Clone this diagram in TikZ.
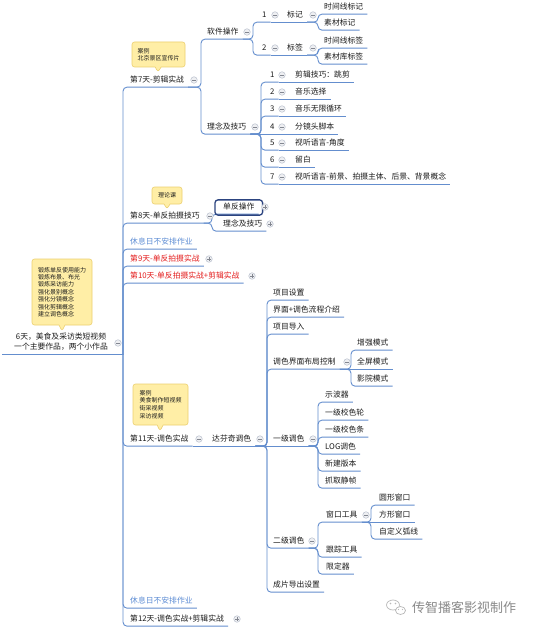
\documentclass[tikz,border=0pt]{standalone}
\usepackage{fontspec}
\setmainfont{Noto Sans CJK SC}
\usetikzlibrary{calc,shapes.callouts}
\definecolor{lnc}{RGB}{100,142,206}
\definecolor{txc}{RGB}{28,28,28}
\definecolor{redc}{RGB}{228,30,30}
\definecolor{bluec}{RGB}{92,140,212}
\definecolor{noteF}{RGB}{255,238,166}
\definecolor{noteD}{RGB}{236,208,112}
\definecolor{mkF}{RGB}{238,239,242}
\definecolor{mkD}{RGB}{185,192,205}
\definecolor{selc}{RGB}{44,68,128}
\definecolor{wmc}{RGB}{138,138,138}
\tikzset{
  tx/.style={anchor=west, inner xsep=4bp, xshift=-4bp, inner ysep=4bp,
    text height=5.9bp, text depth=0pt,
    font=\fontsize{7.8bp}{9bp}\selectfont, text=txc},
  rootn/.style={align=center, inner xsep=12bp, inner ysep=4bp,
    font=\fontsize{7.8bp}{10bp}\selectfont, text=txc},
  ln/.style={draw=lnc, line width=0.9bp, rounded corners=4bp},
  note/.style={rectangle callout, fill=noteF, draw=noteD, line width=0.6bp,
    rounded corners=2.5bp, align=left, inner sep=0pt,
    font=\fontsize{6bp}{7.4bp}\selectfont, text=txc, callout pointer width=6bp},
  mkm/.style={circle, draw=mkD, fill=mkF, line width=0.5bp, minimum size=6.5bp,
    inner sep=0pt, path picture={\draw[mkD!70!black, line width=0.6bp]
      ([xshift=1.6bp]path picture bounding box.west) --
      ([xshift=-1.6bp]path picture bounding box.east);}},
  mkp/.style={circle, draw=mkD, fill=mkF, line width=0.5bp, minimum size=6.5bp,
    inner sep=0pt, path picture={\draw[mkD!70!black, line width=0.6bp]
      ([xshift=1.6bp]path picture bounding box.west) --
      ([xshift=-1.6bp]path picture bounding box.east)
      ([yshift=-1.6bp]path picture bounding box.north) --
      ([yshift=1.6bp]path picture bounding box.south);}},
  selbox/.style={draw=selc, line width=1.3bp, rounded corners=3bp},
}
\newcommand\mmcon[3]{\draw[ln] (#1.south east) -- (#1.south east -| #3) |- (#2.south east);}
\newcommand\mmstr[2]{\draw[ln] (#1.south east) -- (#2.south east);}
\begin{document}
\begin{tikzpicture}[x=1bp, y=-1bp]
\useasboundingbox (0,0) rectangle (535,633);
\fill[white] (0,0) rectangle (535,633);

% ---------- root ----------
\node[rootn] (root) at (61,342) {6天，美食及采访类短视频\\一个主要作品，两个小作品};
\coordinate (spx) at (123,0);
\coordinate (sp) at (root.south west -| spx);
\draw[ln] (root.south west) -- (sp);

% ---------- days ----------
\node[tx] (d7) at (130,80) {第7天-剪辑实战};
\node[tx] (d8) at (130,216) {第8天-单反拍摄技巧};
\node[tx, text=bluec] (r1) at (130,242) {休息日不安排作业};
\node[tx, text=redc] (d9) at (130,259) {第9天-单反拍摄实战};
\node[tx, text=redc] (d10) at (130,276) {第10天-单反拍摄实战+剪辑实战};
\node[tx] (d11) at (130,439) {第11天-调色实战};
\node[tx, text=bluec] (r2) at (130,601) {休息日不安排作业};
\node[tx] (d12) at (130,619) {第12天-调色实战+剪辑实战};
\foreach \d in {d7,d8,r1,d9,d10,d11,r2,d12}{\draw[ln] (sp) |- (\d.south east);}

% ---------- day 7 ----------
\coordinate (b7) at (201,0);
\node[tx] (so) at (207,32) {软件操作};
\node[tx] (lj) at (207,127) {理念及技巧};
\mmcon{d7}{so}{b7}
\mmcon{d7}{lj}{b7}

\coordinate (bso) at (253,0);
\node[tx] (n1) at (262,15) {1};
\node[tx] (n2) at (262,48) {2};
\mmcon{so}{n1}{bso}
\mmcon{so}{n2}{bso}
\node[tx] (bj) at (287,15) {标记};
\node[tx] (bq) at (287,48) {标签};
\mmstr{n1}{bj}
\mmstr{n2}{bq}
\coordinate (bb) at (318,0);
\node[tx] (bj1) at (324,7) {时间线标记};
\node[tx] (bj2) at (324,23) {素材标记};
\node[tx] (bq1) at (324,41) {时间线标签};
\node[tx] (bq2) at (324,57) {素材库标签};
\mmcon{bj}{bj1}{bb}
\mmcon{bj}{bj2}{bb}
\mmcon{bq}{bq1}{bb}
\mmcon{bq}{bq2}{bb}

\coordinate (blj) at (261,0);
\node[tx] (i1) at (270,75) {1};
\node[tx] (i2) at (270,92) {2};
\node[tx] (i3) at (270,109) {3};
\node[tx] (i4) at (270,127) {4};
\node[tx] (i5) at (270,143) {5};
\node[tx] (i6) at (270,160) {6};
\node[tx] (i7) at (270,177) {7};
\node[tx] (t1) at (295,75) {剪辑技巧：跳剪};
\node[tx] (t2) at (295,92) {音乐选择};
\node[tx] (t3) at (295,109) {音乐无限循环};
\node[tx] (t4) at (295,127) {分镜头脚本};
\node[tx] (t5) at (295,143) {视听语言-角度};
\node[tx] (t6) at (295,160) {留白};
\node[tx] (t7) at (295,177) {视听语言-前景、拍摄主体、后景、背景概念};
\foreach \k in {1,2,3,5,6,7}{\mmcon{lj}{i\k}{blj}}
\mmstr{lj}{i4}
\foreach \k in {1,...,7}{\mmstr{i\k}{t\k}}

% ---------- day 8 ----------
\coordinate (b8) at (212,0);
\node[tx] (sd) at (223,207) {单反操作};
\node[tx] (lj8) at (223,224) {理念及技巧};
\mmcon{d8}{sd}{b8}
\mmcon{d8}{lj8}{b8}
\draw[selbox] ([xshift=-4bp,yshift=-1bp]sd.south west) rectangle ([xshift=4bp]sd.north east);

% ---------- day 11 ----------
\node[tx] (df) at (212,439) {达芬奇调色};
\mmstr{d11}{df}
\coordinate (bdf) at (267,0);
\node[tx] (p1) at (273,293) {项目设置};
\node[tx] (p2) at (273,310) {界面+调色流程介绍};
\node[tx] (p3) at (273,327) {项目导入};
\node[tx] (p4) at (273,362) {调色界面布局控制};
\node[tx] (p5) at (273,439) {一级调色};
\node[tx] (p6) at (273,541) {二级调色};
\node[tx] (p7) at (273,585) {成片导出设置};
\foreach \k in {1,2,3,4,6,7}{\mmcon{df}{p\k}{bdf}}
\mmstr{df}{p5}

\coordinate (bp4) at (351,0);
\node[tx] (q1) at (357,343) {增强模式};
\node[tx] (q2) at (357,362) {全屏模式};
\node[tx] (q3) at (357,379) {影院模式};
\mmcon{p4}{q1}{bp4}
\mmstr{p4}{q2}
\mmcon{p4}{q3}{bp4}

\coordinate (bp5) at (318,0);
\node[tx] (s1) at (325,395) {示波器};
\node[tx] (s2) at (325,413) {一级校色轮};
\node[tx] (s3) at (325,430) {一级校色条};
\node[tx] (s4) at (325,447) {LOG调色};
\node[tx] (s5) at (325,464) {新建版本};
\node[tx] (s6) at (325,481) {抓取静帧};
\foreach \k in {1,...,6}{\mmcon{p5}{s\k}{bp5}}

\coordinate (bp6) at (318,0);
\node[tx] (w) at (326,515) {窗口工具};
\node[tx] (g1) at (326,550) {跟踪工具};
\node[tx] (g2) at (326,567) {限定器};
\mmcon{p6}{w}{bp6}
\mmcon{p6}{g1}{bp6}
\mmcon{p6}{g2}{bp6}

\coordinate (bw) at (371,0);
\node[tx] (w1) at (379,498) {圆形窗口};
\node[tx] (w2) at (379,515) {方形窗口};
\node[tx] (w3) at (379,532) {自定义弧线};
\mmcon{w}{w1}{bw}
\mmstr{w}{w2}
\mmcon{w}{w3}{bw}

% ---------- collapse markers ----------
\foreach \p [count=\i] in {(118,343),(194,80),(247,32),(275,15),(313,15),(275,48),(313,48),(255,127),
  (282,75),(282,92),(282,109),(282,127),(282,143),(282,160),(282,177),
  (210,216),(199,439),(260,439),(347,362),(313,439),(312,541),(366,515)}
  {\node[mkm] (mm\i) at \p {};}
\foreach \p [count=\i] in {(265,207),(270,224),(209,259),(252,276),(237,619)}
  {\node[mkp] (mp\i) at \p {};}

% ---------- notes ----------
\node[note, minimum width=53bp, minimum height=25bp, callout absolute pointer={(158,72)}]
  (c7) at (158.5,54.5) {案例\\北京景区宣传片};
\node[note, minimum width=30bp, minimum height=17bp, callout absolute pointer={(167,209)}]
  (c8) at (167,195.5) {理论课};
\node[note, minimum width=60bp, minimum height=66bp, callout absolute pointer={(62,331)}]
  (cr) at (62,292) {锻炼单反使用能力\\锻炼布景、布光\\锻炼采访能力\\强化景别概念\\强化分镜概念\\强化剪辑概念\\建立调色概念};
\node[note, minimum width=55bp, minimum height=41bp, callout absolute pointer={(160,431)},
  font=\fontsize{6bp}{7.8bp}\selectfont]
  (c11) at (160.5,404.5) {案例\\美食制作短视频\\街采视频\\采访视频};

% ---------- watermark ----------
\draw[wmc!60, line width=0.7bp] (393,605) ellipse [x radius=6.5bp, y radius=5bp];
\draw[wmc!60, fill=white, line width=0.7bp] (400.5,610.5) ellipse [x radius=5bp, y radius=4bp];
\fill[wmc!60] (390.5,603.5) circle (0.8bp) (395.5,603.5) circle (0.8bp)
  (398.5,609.5) circle (0.6bp) (402.5,609.5) circle (0.6bp);
\node[anchor=west, inner sep=0pt, text=wmc, font=\fontsize{13bp}{15bp}\selectfont] (wm) at (412,608) {传智播客影视制作};
\end{tikzpicture}
\end{document}
